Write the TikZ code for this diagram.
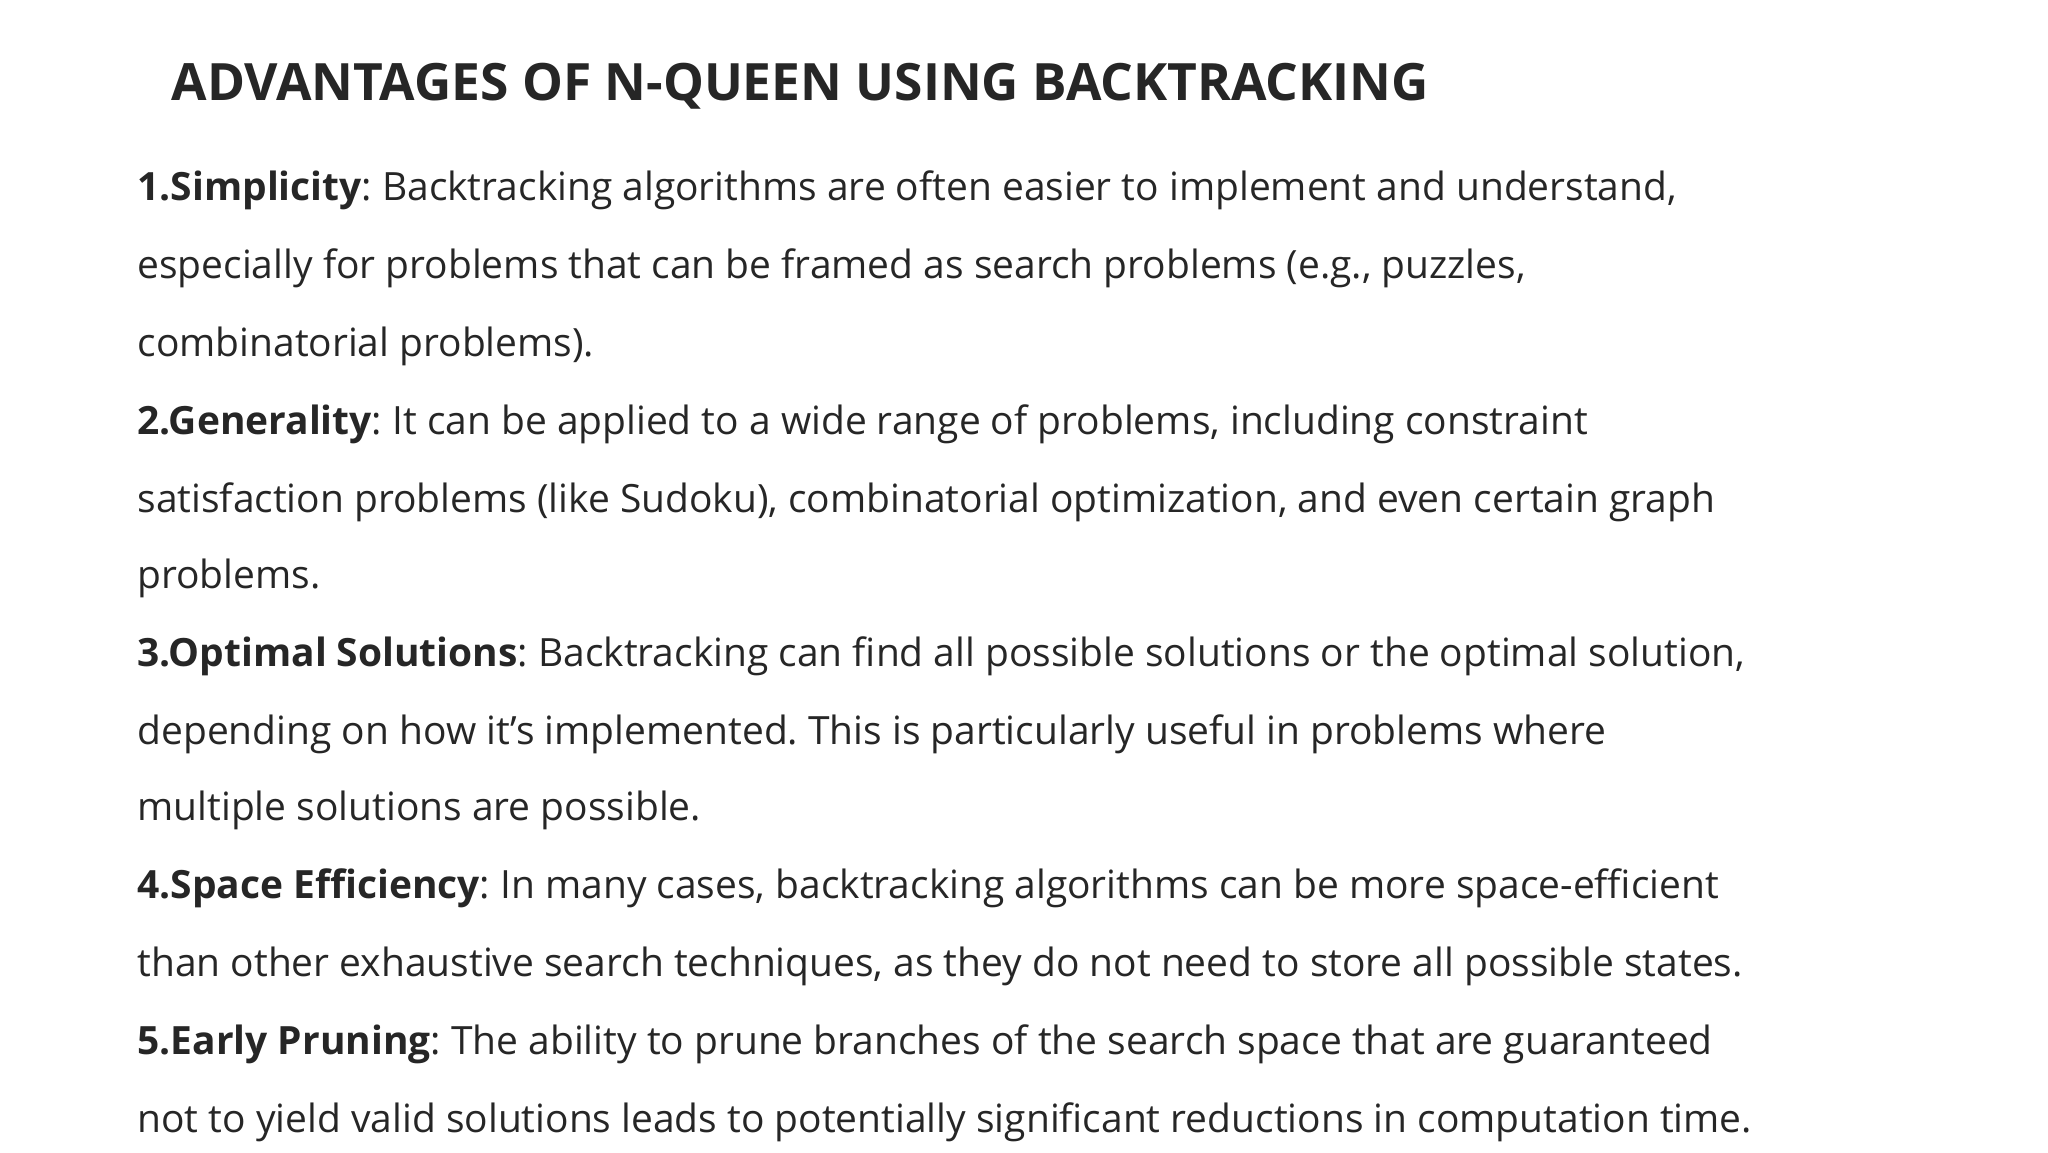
\documentclass[tikz,border=0pt]{standalone}
\usepackage{fontspec}
\setmainfont{Open Sans}
\newfontfamily\titlefont{Open Sans}
\frenchspacing
\begin{document}
\begin{tikzpicture}[x=1pt,y=-1pt,
  ln/.style={anchor=base west,inner sep=0pt,font=\frenchspacing\fontsize{29.5}{34}\selectfont,text=black!85},
  ttl/.style={anchor=base west,inner sep=0pt,font=\titlefont\bfseries\fontsize{39}{44}\selectfont,text=black!85}]
\useasboundingbox[fill=white] (0,0) rectangle (1552,873);
\node[ttl] (t) at (130,76) {ADVANTAGES OF N-QUEEN USING BACKTRACKING};
\node[ln] (l1) at (104,152) {\textbf{1.Simplicity}: Backtracking algorithms are often easier to implement and understand,};
\node[ln] (l2) at (104,211) {especially for problems that can be framed as search problems (e.g., puzzles,};
\node[ln] (l3) at (104,270) {combinatorial problems).};
\node[ln] (l4) at (104,329) {\textbf{2.Generality}: It can be applied to a wide range of problems, including constraint};
\node[ln] (l5) at (104,388) {satisfaction problems (like Sudoku), combinatorial optimization, and even certain graph};
\node[ln] (l6) at (104,446) {problems.};
\node[ln] (l7) at (104,505) {\textbf{3.Optimal Solutions}: Backtracking can find all possible solutions or the optimal solution,};
\node[ln] (l8) at (104,564) {depending on how it\symbol{39}s implemented. This is particularly useful in problems where};
\node[ln] (l9) at (104,622) {multiple solutions are possible.};
\node[ln] (l10) at (104,681) {\textbf{4.Space Efficiency}: In many cases, backtracking algorithms can be more space-efficient};
\node[ln] (l11) at (104,740) {than other exhaustive search techniques, as they do not need to store all possible states.};
\node[ln] (l12) at (104,799) {\textbf{5.Early Pruning}: The ability to prune branches of the search space that are guaranteed};
\node[ln] (l13) at (104,858) {not to yield valid solutions leads to potentially significant reductions in computation time.};
\end{tikzpicture}
\end{document}
